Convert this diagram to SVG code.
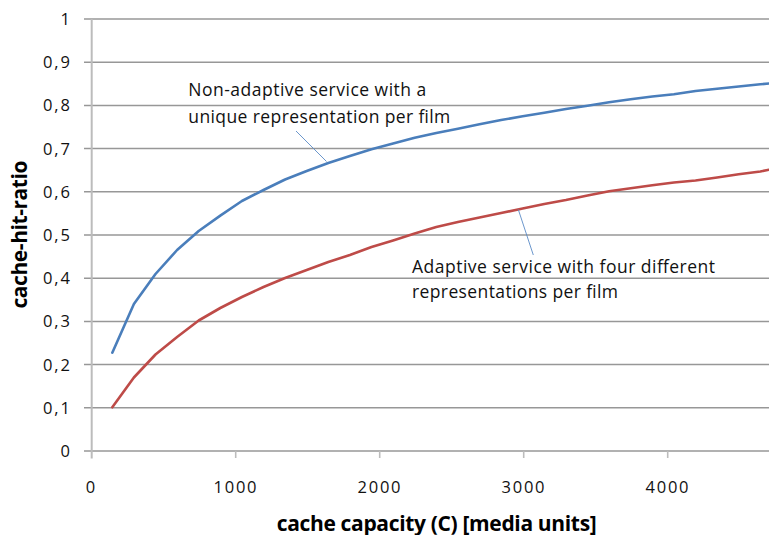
<svg xmlns="http://www.w3.org/2000/svg" width="769" height="535" viewBox="0 0 769 535">
<style>
.grid{stroke:#979797;stroke-width:1.5;fill:none}
.axis{stroke:#bcbcbc;stroke-width:2;fill:none}
.tick{stroke:#bcbcbc;stroke-width:1.6}
.lbl{font-family:"Open Sans","Liberation Sans",sans-serif;font-size:16.5px;fill:#111}
.ann{font-family:"Open Sans","Liberation Sans",sans-serif;font-size:17.5px;fill:#111}
.ttl{font-family:"Open Sans","Liberation Sans",sans-serif;font-size:21px;font-weight:bold;fill:#000}
.blue{stroke:#4a7ebb;stroke-width:2.6;fill:none;stroke-linejoin:round;stroke-linecap:round}
.red{stroke:#be4b48;stroke-width:2.6;fill:none;stroke-linejoin:round;stroke-linecap:round}
.lead{stroke:#5b8bc6;stroke-width:0.9;fill:none}
</style>
<rect width="769" height="535" fill="#fff"/>
<g id="grid">
<line class="grid" x1="84" y1="19" x2="769" y2="19"/>
<line class="grid" x1="84" y1="62.2" x2="769" y2="62.2"/>
<line class="grid" x1="84" y1="105.4" x2="769" y2="105.4"/>
<line class="grid" x1="84" y1="148.6" x2="769" y2="148.6"/>
<line class="grid" x1="84" y1="191.8" x2="769" y2="191.8"/>
<line class="grid" x1="84" y1="235" x2="769" y2="235"/>
<line class="grid" x1="84" y1="278.2" x2="769" y2="278.2"/>
<line class="grid" x1="84" y1="321.4" x2="769" y2="321.4"/>
<line class="grid" x1="84" y1="364.6" x2="769" y2="364.6"/>
<line class="grid" x1="84" y1="407.8" x2="769" y2="407.8"/>
<line class="grid" x1="84" y1="451" x2="769" y2="451"/>
</g>
<g id="axes">
<line class="axis" x1="91.7" y1="19" x2="91.7" y2="458.5"/>
<line class="tick" x1="235.7" y1="451" x2="235.7" y2="458"/>
<line class="tick" x1="379.7" y1="451" x2="379.7" y2="458"/>
<line class="tick" x1="523.7" y1="451" x2="523.7" y2="458"/>
<line class="tick" x1="667.7" y1="451" x2="667.7" y2="458"/>
<g class="lbl" text-anchor="end">
<text x="70" y="25">1</text>
<text x="70" y="68.2" textLength="27">0,9</text>
<text x="70" y="111.4" textLength="27">0,8</text>
<text x="70" y="154.6" textLength="27">0,7</text>
<text x="70" y="197.8" textLength="27">0,6</text>
<text x="70" y="241" textLength="27">0,5</text>
<text x="70" y="284.2" textLength="27">0,4</text>
<text x="70" y="327.4" textLength="27">0,3</text>
<text x="70" y="370.6" textLength="27">0,2</text>
<text x="70" y="413.8" textLength="27">0,1</text>
<text x="70" y="457">0</text>
</g>
<g class="lbl" text-anchor="middle">
<text x="90.5" y="493">0</text>
<text x="235" y="493" textLength="43">1000</text>
<text x="379" y="493" textLength="43">2000</text>
<text x="523" y="493" textLength="43">3000</text>
<text x="667" y="493" textLength="43">4000</text>
</g>
<text class="ttl" x="436.7" y="530.5" text-anchor="middle" textLength="320">cache capacity (C) [media units]</text>
<text class="ttl" transform="translate(26.5,234.5) rotate(-90)" x="0" y="0" text-anchor="middle" textLength="148">cache-hit-ratio</text>
</g>
<g id="series-nonadaptive">
<path class="blue" d="M112.3,352.7 L133.9,304 L155.5,274 L177.1,250 L198.7,231 L220.3,215.6 L241.9,201 L263.5,190 L285.1,179.5 L306.7,171 L328.3,163 L349.9,156 L371.5,149.3 L393.1,143.5 L414.7,137.8 L436.3,133 L457.9,128.7 L479.5,124.3 L501.1,120 L522.7,116.3 L544.3,112.7 L565.9,109 L587.5,105.8 L609.1,102.2 L630.7,99.2 L652.3,96.5 L673.9,94.2 L695.5,91 L717.1,88.8 L738.7,86.5 L760.3,84.3 L769,83.5"/>
</g>
<g id="series-adaptive">
<path class="red" d="M112.3,407.3 L133.9,377.5 L155.5,354.5 L177.1,337 L198.7,320.5 L220.3,308 L241.9,297 L263.5,287 L285.1,278 L306.7,270 L328.3,262 L349.9,255 L371.5,247 L393.1,240.5 L414.7,233.5 L436.3,227 L457.9,222 L479.5,217.5 L501.1,213 L522.7,208.5 L544.3,204 L565.9,200 L587.5,195.5 L609.1,191.3 L630.7,188.3 L652.3,185.2 L673.9,182.5 L695.5,180.5 L717.1,177.5 L738.7,174.3 L760.3,171.5 L769,169.8"/>
</g>
<g id="connectors">
<line class="lead" x1="296" y1="131" x2="326.5" y2="161.5"/>
<line class="lead" x1="518.3" y1="209.5" x2="533.3" y2="255"/>
</g>
<g id="label-nonadaptive" class="ann">
<text x="188.3" y="96" textLength="238">Non-adaptive service with a</text>
<text x="188.3" y="123" textLength="262">unique representation per film</text>
</g>
<g id="label-adaptive" class="ann">
<text x="412" y="272.7" textLength="303">Adaptive service with four different</text>
<text x="412" y="298" textLength="206">representations per film</text>
</g>
</svg>
